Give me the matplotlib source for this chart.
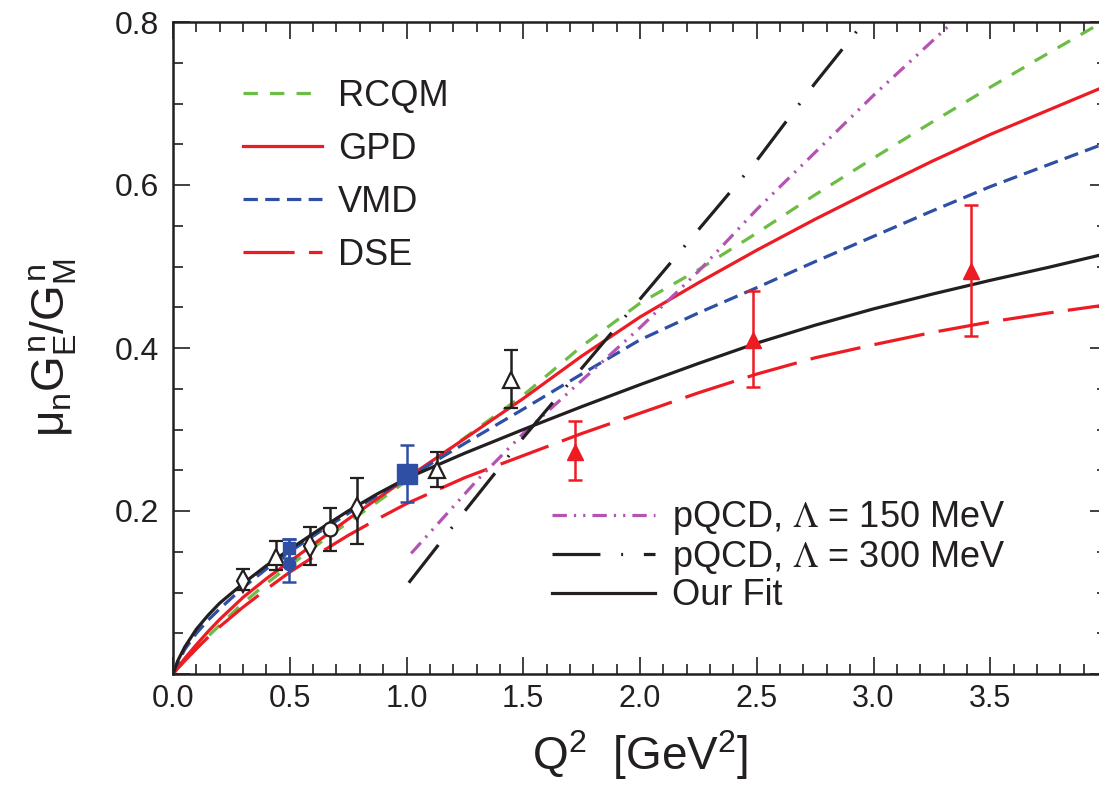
import matplotlib
matplotlib.use('Agg')
import matplotlib.pyplot as plt
from matplotlib.font_manager import FontProperties
from matplotlib.ticker import MultipleLocator
import numpy as np

plt.rcParams['font.family'] = ['Liberation Sans', 'DejaVu Sans']
plt.rcParams['mathtext.fontset'] = 'custom'
plt.rcParams['mathtext.rm'] = 'Liberation Sans'
plt.rcParams['mathtext.it'] = 'Liberation Sans'
plt.rcParams['mathtext.bf'] = 'Liberation Sans:bold'

# ---------------- data ----------------
q_low = [0, 0.02, 0.05, 0.1, 0.15, 0.2, 0.3, 0.4, 0.5, 0.625, 0.75, 0.875, 1.0,
         1.25, 1.5, 1.75, 2.0, 2.25, 2.5, 2.75, 3.0, 3.25, 3.5, 3.75, 4.0]

v_fit = [0, 0.016, 0.033, 0.055, 0.072, 0.087, 0.111, 0.133, 0.153, 0.177, 0.200, 0.221, 0.240,
         0.271, 0.300, 0.328, 0.355, 0.381, 0.406, 0.428, 0.448, 0.466, 0.483, 0.499, 0.516]
v_vmd = [0, 0.013, 0.030, 0.050, 0.066, 0.080, 0.106, 0.129, 0.150, 0.174, 0.197, 0.219, 0.240,
         0.283, 0.325, 0.368, 0.410, 0.443, 0.474, 0.506, 0.537, 0.568, 0.598, 0.625, 0.652]
v_gpd = [0, 0.008, 0.019, 0.036, 0.052, 0.067, 0.094, 0.117, 0.138, 0.164, 0.190, 0.215, 0.240,
         0.289, 0.338, 0.390, 0.438, 0.480, 0.520, 0.558, 0.594, 0.629, 0.662, 0.692, 0.722]
v_rcqm = [0, 0.007, 0.016, 0.031, 0.046, 0.060, 0.087, 0.111, 0.133, 0.160, 0.186, 0.211, 0.237,
          0.290, 0.342, 0.402, 0.455, 0.496, 0.541, 0.588, 0.633, 0.677, 0.720, 0.762, 0.803]
v_dse = [0, 0.007, 0.016, 0.031, 0.045, 0.058, 0.082, 0.104, 0.125, 0.148, 0.170, 0.190, 0.209,
         0.241, 0.268, 0.295, 0.320, 0.345, 0.368, 0.388, 0.404, 0.419, 0.432, 0.443, 0.453]

q_pqcd150 = [1.02, 1.3, 1.5, 1.75, 2.0, 2.25, 2.5, 2.75, 3.0, 3.34]
v_pqcd150 = [0.148, 0.237, 0.295, 0.360, 0.425, 0.494, 0.570, 0.640, 0.710, 0.800]

q_pqcd300 = [1.01, 1.25, 1.5, 1.75, 2.0, 2.25, 2.5, 2.75, 2.96]
v_pqcd300 = [0.112, 0.200, 0.290, 0.375, 0.460, 0.545, 0.630, 0.725, 0.800]

# data points
q_diam = [0.30, 0.585, 0.79]
v_diam = [0.1145, 0.157, 0.202]
e_diam_lo = [0.0115, 0.023, 0.042]
e_diam_hi = [0.0145, 0.023, 0.038]

q_circ = [0.671]
v_circ = [0.1775]
e_circ = [0.026]

q_otri = [0.442, 1.13, 1.447]
v_otri = [0.144, 0.250, 0.361]
e_otri_lo = [0.016, 0.021, 0.035]
e_otri_hi = [0.019, 0.023, 0.036]

q_bsq = [0.495, 1.0]
v_bsq = [0.154, 0.246]
e_bsq_lo = [0.012, 0.035]
e_bsq_hi = [0.012, 0.035]
s_bsq = [9, 14]

q_bcirc = [0.495]
v_bcirc = [0.135]
e_bcirc_lo = [0.022]
e_bcirc_hi = [0.031]

q_rtri = [1.72, 2.485, 3.416]
v_rtri = [0.273, 0.410, 0.494]
e_rtri_lo = [0.035, 0.058, 0.079]
e_rtri_hi = [0.037, 0.060, 0.082]

xtick_vals = [0.0, 0.5, 1.0, 1.5, 2.0, 2.5, 3.0, 3.5, 4.0]
xtick_labels = ['0.0', '0.5', '1.0', '1.5', '2.0', '2.5', '3.0', '3.5', '']
ytick_vals = [0.0, 0.2, 0.4, 0.6, 0.8]
ytick_labels = ['', '0.2', '0.4', '0.6', '0.8']

# ---------------- colours ----------------
GREEN = '#6cbd45'
RED = '#ed1c24'
BLUE = '#2e4fa3'
MAGENTA = '#b553b3'
BLACK = '#231f20'

fig = plt.figure(figsize=(10.99, 7.89), dpi=100)
ax = fig.add_axes([173/1099, 115/789, 934/1099, 652/789])

lw = 2.3
l_rcqm, = ax.plot(q_low, v_rcqm, color=GREEN, lw=lw, dashes=(4.5, 3.8), label='RCQM')
l_gpd, = ax.plot(q_low, v_gpd, color=RED, lw=lw, label='GPD')
l_vmd, = ax.plot(q_low, v_vmd, color=BLUE, lw=lw, dashes=(4.5, 2.3), label='VMD')
l_dse, = ax.plot(q_low, v_dse, color=RED, lw=lw, dashes=(16, 4.5), label='DSE')
l_p150, = ax.plot(q_pqcd150, v_pqcd150, color=MAGENTA, lw=lw,
                  dashes=(4.5, 2.2, 0.7, 2.2, 0.7, 2.2), label='pQCD, $\\Lambda$ = 150 MeV')
l_p300, = ax.plot(q_pqcd300, v_pqcd300, color=BLACK, lw=lw,
                  dashes=(15, 6.5, 0.6, 6.5), label='pQCD, $\\Lambda$ = 300 MeV')
l_fit, = ax.plot(q_low, v_fit, color=BLACK, lw=lw, label='Our Fit')

ekw = dict(ls='none', lw=1.8, capsize=5, capthick=1.8, zorder=5)
ax.errorbar(q_diam, v_diam, yerr=[e_diam_lo, e_diam_hi], marker='d', ms=11,
            mfc='white', mec=BLACK, mew=1.6, ecolor=BLACK, **ekw)
ax.errorbar(q_circ, v_circ, yerr=[e_circ, e_circ], marker='o', ms=10,
            mfc='white', mec=BLACK, mew=1.6, ecolor=BLACK, **ekw)
ax.errorbar(q_otri, v_otri, yerr=[e_otri_lo, e_otri_hi], marker='^', ms=12,
            mfc='white', mec=BLACK, mew=1.6, ecolor=BLACK, **ekw)
for q, v, lo, hi, s in zip(q_bsq, v_bsq, e_bsq_lo, e_bsq_hi, s_bsq):
    ax.errorbar([q], [v], yerr=[[lo], [hi]], marker='s', ms=s,
                mfc=BLUE, mec=BLUE, ecolor=BLUE, **ekw)
ax.errorbar(q_bcirc, v_bcirc, yerr=[e_bcirc_lo, e_bcirc_hi], marker='o', ms=9,
            mfc=BLUE, mec=BLUE, ecolor=BLUE, **ekw)
ax.errorbar(q_rtri, v_rtri, yerr=[e_rtri_lo, e_rtri_hi], marker='^', ms=11,
            mfc=RED, mec=RED, ecolor=RED, **ekw)

ax.set_xlim(0, 4.0)
ax.set_ylim(0, 0.8)

xfont = FontProperties(family=['Liberation Sans Narrow', 'Liberation Sans'], size=22)
ax.set_xticks(xtick_vals)
ax.set_xticklabels(xtick_labels, fontproperties=xfont, color=BLACK)
ax.set_yticks(ytick_vals)
ax.set_yticklabels(ytick_labels, fontsize=23, color=BLACK)
ax.xaxis.set_minor_locator(MultipleLocator(0.1))
ax.yaxis.set_minor_locator(MultipleLocator(0.05))
ax.tick_params(which='both', direction='in', top=True, right=True, width=1.2, color=BLACK)
ax.tick_params(which='major', length=12.5)
ax.tick_params(which='minor', length=7)
ax.tick_params(axis='x', which='major', pad=7)
ax.tick_params(axis='y', which='major', pad=10)
for s in ax.spines.values():
    s.set_linewidth(1.8)
    s.set_color(BLACK)

labfont = FontProperties(family=['Liberation Sans Narrow', 'Liberation Sans'], size=33)
ax.set_xlabel('Q$^2$  [GeV$^2$]', fontproperties=labfont, color=BLACK, labelpad=10)
ylabfont = FontProperties(family=['Liberation Sans Narrow', 'Liberation Sans'], size=33)
ax.set_ylabel('$\\mu_n G^n_E / G^n_M$', fontproperties=ylabfont, color=BLACK, labelpad=26)

leg1 = ax.legend(handles=[l_rcqm, l_gpd, l_vmd, l_dse], loc='upper left',
                 bbox_to_anchor=(0.075, 0.913), frameon=False, fontsize=26,
                 handlelength=2.2, handletextpad=0.42, labelspacing=0.5,
                 borderpad=0, borderaxespad=0)
for t in leg1.get_texts():
    t.set_color(BLACK)
ax.add_artist(leg1)

lfp = FontProperties(family=['Liberation Sans', 'DejaVu Sans'], size=26, math_fontfamily='stix')
leg2 = ax.legend(handles=[l_p150, l_p300, l_fit], loc='upper left',
                 bbox_to_anchor=(0.406, 0.268), frameon=False, prop=lfp,
                 handlelength=2.86, handletextpad=0.47, labelspacing=0.04,
                 borderpad=0, borderaxespad=0)
for t in leg2.get_texts():
    t.set_color(BLACK)

fig.savefig('out.png', dpi=100)
